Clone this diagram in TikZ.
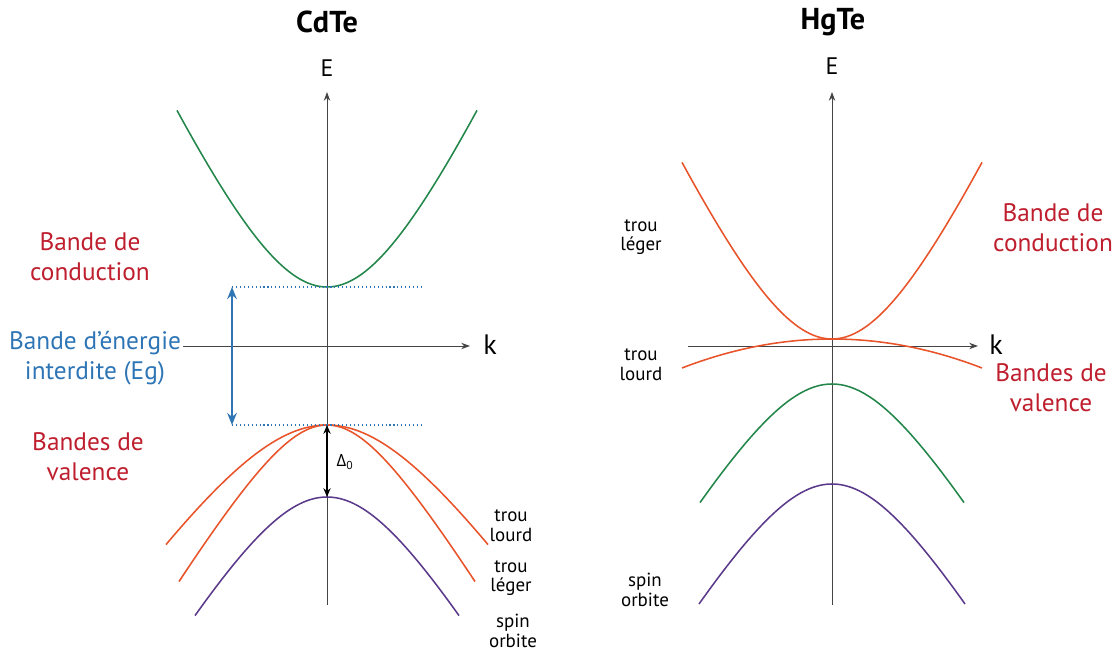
\documentclass[tikz,border=0pt]{standalone}
\usepackage{fontspec}
\setmainfont{PT Sans}
\newfontfamily\greekfont{Open Sans}
\usetikzlibrary{arrows.meta}

\definecolor{labelred}{HTML}{BE1E2D}
\definecolor{gapblue}{HTML}{2E75B6}
\definecolor{bandgreen}{HTML}{23864A}
\definecolor{bandorange}{HTML}{E8532A}
\definecolor{bandpurple}{HTML}{5B3A8C}
\definecolor{axisgray}{HTML}{444444}

\begin{document}
\begin{tikzpicture}[
    x=0.25cm, y=-0.25cm,
    axis/.style={-{Stealth[length=2.2mm, width=1.6mm]}, axisgray, line width=0.7pt},
    band/.style={line width=1.1pt, smooth},
    bandlabel/.style={font=\fontsize{18}{21.5}\selectfont, align=center, text=labelred, inner sep=0pt},
    smalllabel/.style={font=\fontsize{13.5}{14}\selectfont, align=center, inner sep=0pt},
    title/.style={font=\fontsize{21.5}{24}\selectfont\bfseries, inner sep=0pt},
    axislabel/.style={font=\fontsize{17}{20}\selectfont, inner sep=0pt}
]
\useasboundingbox (0,0) rectangle (111.7,65.3);

% CdTe: axes
\node[title] (cdte) at (32.7,2.2) {CdTe};
\coordinate (cdEbot) at (32.7,60.5);
\coordinate (cdEtop) at (32.7,9.2);
\coordinate (cdkleft) at (18.3,34.6);
\coordinate (cdkright) at (47.0,34.6);
\draw[axis] (cdEbot) -- (cdEtop);
\draw[axis] (cdkleft) -- (cdkright);
\node[axislabel] (cdE) at (32.7,6.8) {E};
\node[axislabel, font=\fontsize{20}{22}\selectfont] (cdk) at (49.0,34.5) {k};

% CdTe: bands
\draw[band, bandgreen] plot[domain=-15:15, samples=61] ({32.7+\x}, {28.7-2.2*(sqrt(100+\x*\x)-10)});
\draw[band, bandorange] plot[domain=-16.1:16.1, samples=61] ({32.7+\x}, {42.5+1.48*(sqrt(144+\x*\x)-12)});
\draw[band, bandorange] plot[domain=-14.8:14.8, samples=61] ({32.7+\x}, {42.5+1.67*(sqrt(49+\x*\x)-7)});
\draw[band, bandpurple] plot[domain=-13.2:13.2, samples=61] ({32.7+\x}, {49.7+1.7*(sqrt(81+\x*\x)-9)});

% CdTe: gap and split-off
\coordinate (cbmin) at (32.7,28.7);
\coordinate (vbmax) at (32.7,42.5);
\coordinate (somax) at (32.7,49.7);
\coordinate (gaptop) at (23.2,28.7);
\coordinate (gapbot) at (23.2,42.5);
\coordinate (gaptopend) at (42.4,28.7);
\coordinate (gapbotend) at (42.4,42.5);
\draw[gapblue, dotted, line width=0.8pt] (gaptop) -- (gaptopend);
\draw[gapblue, dotted, line width=0.8pt] (gapbot) -- (gapbotend);
\draw[gapblue, line width=1.8pt, {Stealth[length=3mm, width=2.4mm]}-{Stealth[length=3mm, width=2.4mm]}] (gaptop) -- (gapbot);
\draw[black, line width=1.1pt, {Stealth[length=2.2mm, width=1.8mm]}-{Stealth[length=2.2mm, width=1.8mm]}] (vbmax) -- (somax);
\node[font=\fontsize{12}{14}\selectfont\greekfont, inner sep=0pt] (delta) at (34.5,46.2) {Δ\textsubscript{0}};

% CdTe: labels
\node[bandlabel] (cdcond) at (9.0,25.7) {Bande de\\conduction};
\node[bandlabel, text=gapblue] (cdgap) at (9.5,35.8) {Bande d’énergie\\interdite (Eg)};
\node[bandlabel] (cdval) at (8.8,45.7) {Bandes de\\valence};
\node[smalllabel] (cdhh) at (51.1,52.6) {trou\\lourd};
\node[smalllabel] (cdlh) at (51.1,57.8) {trou\\léger};
\node[smalllabel] (cdso) at (51.3,63.1) {spin\\orbite};

% HgTe: axes
\node[title] (hgte) at (83.3,2.2) {HgTe};
\coordinate (hgEbot) at (83.2,60.5);
\coordinate (hgEtop) at (83.2,9.2);
\coordinate (hgkleft) at (68.8,34.6);
\coordinate (hgkright) at (97.8,34.6);
\draw[axis] (hgEbot) -- (hgEtop);
\draw[axis] (hgkleft) -- (hgkright);
\node[axislabel] (hgE) at (83.2,6.6) {E};
\node[axislabel, font=\fontsize{20}{22}\selectfont] (hgk) at (99.6,34.5) {k};

% HgTe: bands
\draw[band, bandorange] plot[domain=-15:15, samples=61] ({83.2+\x}, {33.9-2.2*(sqrt(100+\x*\x)-10)});
\draw[band, bandorange] plot[domain=-15:15, samples=41] ({83.2+\x}, {33.9+0.0129*\x*\x});
\draw[band, bandgreen] plot[domain=-13.2:13.2, samples=61] ({83.2+\x}, {38.4+1.7*(sqrt(81+\x*\x)-9)});
\draw[band, bandpurple] plot[domain=-13.3:13.3, samples=61] ({83.2+\x}, {48.4+1.7*(sqrt(81+\x*\x)-9)});

% HgTe: labels
\node[bandlabel] (hgcond) at (105.3,22.8) {Bande de\\conduction};
\node[bandlabel] (hgval) at (105.1,38.8) {Bandes de\\valence};
\node[smalllabel] (hglh) at (64.1,23.7) {trou\\léger};
\node[smalllabel] (hghh) at (64.1,36.5) {trou\\lourd};
\node[smalllabel] (hgso) at (64.5,59.0) {spin\\orbite};

\end{tikzpicture}
\end{document}
